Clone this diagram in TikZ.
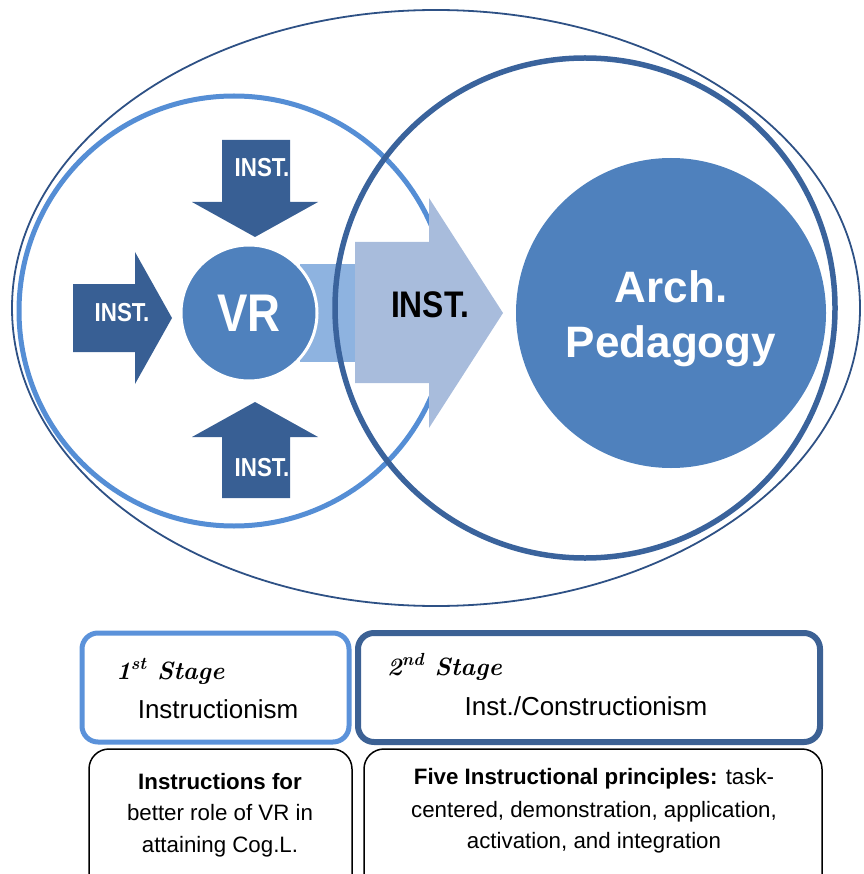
\documentclass[tikz,border=0pt]{standalone}
\usepackage{fontspec}
\usepackage{graphicx}
\usetikzlibrary{shapes.geometric}
\newfontfamily\arialf{Liberation Sans}
\newfontfamily\narrowf[FakeStretch=0.86]{Liberation Sans}
\definecolor{outerc}{HTML}{2E5185}
\definecolor{lightc}{HTML}{558ED5}
\definecolor{lightb}{HTML}{5B92DA}
\definecolor{darkc}{HTML}{3A639C}
\definecolor{darkb}{HTML}{3C6194}
\definecolor{midc}{HTML}{4F81BD}
\definecolor{arrowc}{HTML}{385F94}
\definecolor{stubc}{HTML}{8EB3E0}
\definecolor{bigc}{HTML}{A8BCDC}
\begin{document}
\begin{tikzpicture}[x=1pt,y=-1pt,
  smallinst/.style={text=white, font=\narrowf\bfseries\fontsize{26}{28}\selectfont, inner sep=0},
  darkarrow/.style={fill=arrowc},
  stagebox/.style={rounded corners=16pt, line width=5pt, inner sep=0},
  infobox/.style={rounded corners=20pt, line width=1.5pt, draw=black, inner sep=0},
  body/.style={font=\arialf\fontsize{22.3}{33}\selectfont, anchor=base, inner sep=0},
  stagehead/.style={font=\arialf\fontsize{26}{30}\selectfont, anchor=base, inner sep=0},
  hand/.style={font=\bfseries\itshape\fontsize{25}{30}\selectfont, anchor=base west, inner sep=0},
  archtext/.style={text=white, font=\arialf\bfseries\fontsize{44}{50}\selectfont, anchor=base, inner sep=0},
]
\useasboundingbox (0,0) rectangle (863,874);
\clip (0,0) rectangle (863,874);

% outer ellipse and left circle
\draw[outerc, line width=1.8pt] (436,308) ellipse [x radius=424, y radius=298];
\draw[lightc, line width=5pt] (234,311) circle [radius=215];

% big light arrow with stub
\fill[stubc] (300,264) rectangle (358,362);
\fill[bigc] (355,242) -- (429,242) -- (429,198) -- (503,313) -- (429,428) -- (429,383) -- (355,383) -- cycle;
\node[font=\narrowf\bfseries\fontsize{37}{40}\selectfont, text=black, inner sep=0] (inst) at (430,305) {INST.};

% right circle
\draw[darkc, line width=5.5pt] (585,308) circle [radius=250];

% Arch. Pedagogy
\node[circle, fill=midc, minimum size=310pt, inner sep=0] (arch) at (671,313) {};
\node[archtext] (arch1) at (671,302) {Arch.};
\node[archtext] (arch2) at (671,357) {Pedagogy};

% VR circle
\node[circle, fill=midc, draw=white, line width=3pt, minimum size=136pt, inner sep=0,
      text=white, font=\narrowf\bfseries\fontsize{53}{55}\selectfont] (vr) at (249,313) {VR};

% small dark arrows
\fill[darkarrow] (73,284) -- (135,284) -- (135,252) -- (172,318) -- (135,384) -- (135,352) -- (73,352) -- cycle;
\node[smallinst] (instl) at (122,313) {INST.};
\fill[darkarrow] (222,140) -- (290,140) -- (290,202) -- (318,202) -- (255,237) -- (192,202) -- (222,202) -- cycle;
\node[smallinst] (instt) at (262,168) {INST.};
\fill[darkarrow] (192,437) -- (255,402) -- (318,437) -- (290,437) -- (290,498) -- (222,498) -- (222,437) -- cycle;
\node[smallinst] (instb) at (262,468) {INST.};

% stage boxes
\node[stagebox, draw=lightb, minimum width=267pt, minimum height=109pt] (box1) at (215.5,687.5) {};
\node[stagebox, draw=darkb, line width=6pt, minimum width=462pt, minimum height=109pt] (box2) at (589,687.5) {};
\node[infobox, minimum width=263pt, minimum height=146pt] (box3) at (220.5,822) {};
\node[infobox, minimum width=458pt, minimum height=146pt] (box4) at (593,822) {};

\node[hand] (s1h) at (116,679) {1\textsuperscript{st} Stage};
\node[stagehead] (s1t) at (218,718) {Instructionism};
\node[hand] (s2h) at (387,675) {2\textsuperscript{nd} Stage};
\node[stagehead] (s2t) at (586,715) {Inst./Constructionism};

\node[body] (b3a) at (220,789) {\bfseries Instructions for};
\node[body] (b3b) at (220,820) {better role of VR in};
\node[body] (b3c) at (220,852) {attaining Cog.L.};

\node[body] (b4a) at (594,784) {\textbf{Five Instructional principles:} task-};
\node[body] (b4b) at (594,817) {centered, demonstration, application,};
\node[body] (b4c) at (594,848) {activation, and integration};
\end{tikzpicture}
\end{document}
